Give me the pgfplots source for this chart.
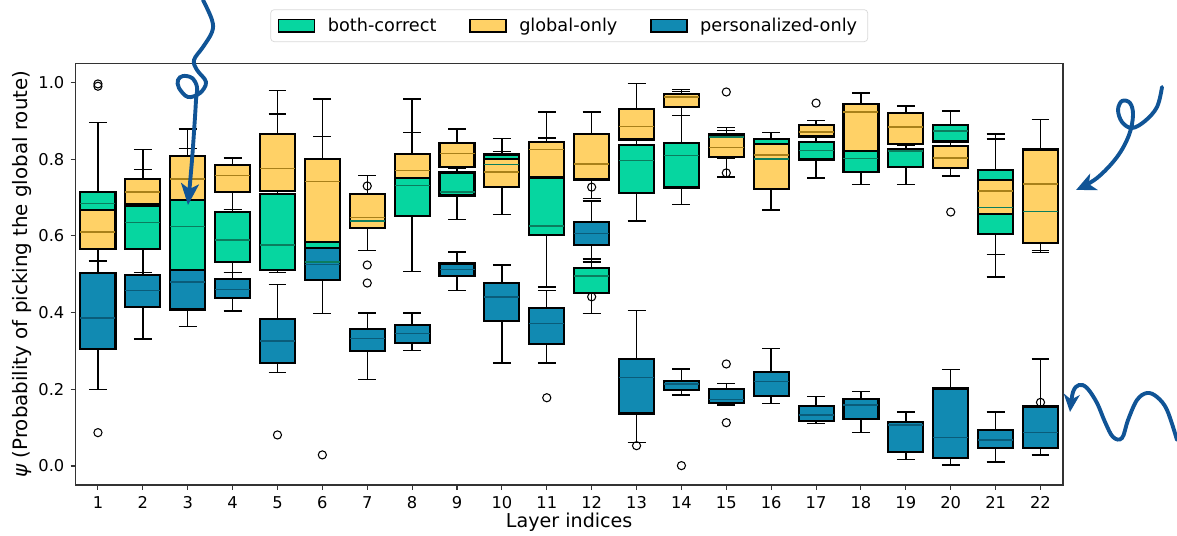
\documentclass[border=0pt]{standalone}
\usepackage{fontspec}
\setmainfont{DejaVu Sans}
\usepackage{pgfplots}
\usepackage{pgfplotstable}
\pgfplotsset{compat=1.18}
\usepgfplotslibrary{statistics}
\usetikzlibrary{arrows.meta}

\definecolor{gcol}{HTML}{06D6A0}
\definecolor{ycol}{HTML}{FFD166}
\definecolor{bcol}{HTML}{118AB2}
\definecolor{gmed}{HTML}{0B7D5E}
\definecolor{ymed}{HTML}{A8801A}
\definecolor{bmed}{HTML}{0A5C7A}
\definecolor{arrowblue}{RGB}{16,84,150}

% both-correct
\pgfplotstableread{
lw q1 med q3 uw
0.534 0.565 0.684 0.714 0.895
0.505 0.565 0.634 0.677 0.773
0.405 0.470 0.625 0.693 0.827
0.505 0.531 0.589 0.662 0.669
0.505 0.512 0.576 0.710 0.918
0.398 0.500 0.532 0.590 0.859
0.630 0.630 0.639 0.700 0.700
0.507 0.651 0.732 0.760 0.957
0.642 0.705 0.714 0.765 0.785
0.740 0.745 0.786 0.812 0.820
0.467 0.603 0.626 0.760 0.855
0.398 0.450 0.495 0.516 0.540
0.639 0.712 0.797 0.836 0.850
0.681 0.726 0.810 0.843 0.977
0.801 0.810 0.858 0.865 0.882
0.780 0.780 0.800 0.852 0.870
0.751 0.799 0.822 0.844 0.859
0.734 0.766 0.801 0.835 0.850
0.734 0.780 0.821 0.825 0.835
0.846 0.846 0.873 0.890 0.925
0.493 0.605 0.674 0.771 0.865
0.556 0.600 0.664 0.750 0.800
}\tabG

% global-only
\pgfplotstableread{
lw q1 med q3 uw
0.534 0.565 0.610 0.667 0.667
0.678 0.682 0.714 0.749 0.825
0.694 0.694 0.748 0.807 0.878
0.669 0.714 0.758 0.784 0.803
0.510 0.717 0.775 0.866 0.979
0.584 0.584 0.742 0.800 0.957
0.562 0.620 0.648 0.709 0.758
0.751 0.751 0.771 0.8125 0.869
0.775 0.780 0.814 0.842 0.878
0.656 0.727 0.766 0.800 0.853
0.752 0.752 0.825 0.845 0.923
0.697 0.747 0.787 0.866 0.923
0.851 0.851 0.885 0.931 0.997
0.914 0.936 0.962 0.970 0.982
0.753 0.806 0.830 0.859 0.875
0.667 0.722 0.811 0.839 0.839
0.859 0.859 0.871 0.890 0.900
0.821 0.821 0.923 0.943 0.972
0.840 0.840 0.884 0.921 0.938
0.756 0.777 0.803 0.835 0.846
0.552 0.658 0.717 0.745 0.852
0.5625 0.582 0.735 0.825 0.903
}\tabY

% personalized-only
\pgfplotstableread{
lw q1 med q3 uw
0.200 0.306 0.386 0.502 0.534
0.331 0.415 0.458 0.497 0.505
0.363 0.408 0.480 0.512 0.512
0.404 0.438 0.460 0.487 0.505
0.244 0.269 0.326 0.384 0.473
0.484 0.484 0.526 0.569 0.569
0.226 0.300 0.332 0.358 0.399
0.301 0.321 0.345 0.367 0.399
0.458 0.495 0.512 0.528 0.558
0.269 0.377 0.441 0.477 0.524
0.269 0.319 0.372 0.412 0.458
0.532 0.576 0.606 0.636 0.691
0.062 0.137 0.231 0.279 0.406
0.185 0.198 0.214 0.222 0.253
0.159 0.165 0.174 0.200 0.215
0.163 0.183 0.220 0.246 0.306
0.111 0.118 0.133 0.157 0.181
0.088 0.122 0.159 0.174 0.194
0.017 0.037 0.107 0.115 0.141
0.003 0.020 0.074 0.202 0.252
0.011 0.048 0.068 0.094 0.141
0.029 0.046 0.088 0.155 0.279
}\tabB

% outliers
\pgfplotstableread{
x y
1 0.990
1 0.996
1 0.087
5 0.081
6 0.029
7 0.730
7 0.524
7 0.477
11 0.178
12 0.727
12 0.441
13 0.053
14 0.001
15 0.975
15 0.764
15 0.266
15 0.113
17 0.946
20 0.662
22 0.166
}\tabO

\pgfplotsset{
  onlywhisk/.style={/pgfplots/boxplot/draw/box/.code={}, /pgfplots/boxplot/draw/median/.code={}},
  onlybox/.style={/pgfplots/boxplot/draw/lower whisker/.code={}, /pgfplots/boxplot/draw/upper whisker/.code={}, /pgfplots/boxplot/draw/median/.code={}},
  onlymed/.style={/pgfplots/boxplot/draw/lower whisker/.code={}, /pgfplots/boxplot/draw/upper whisker/.code={}, /pgfplots/boxplot/draw/box/.code={}},
  rectleg/.style={legend image code/.code={\draw[##1, sharp corners, line width=0.8pt] (0pt,-3.5pt) rectangle (20.5pt,3.5pt);}},
  gbox/.style={boxplot/every box/.style={fill=gcol, draw=black, line width=1.2pt}},
  ybox/.style={boxplot/every box/.style={fill=ycol, draw=black, line width=1.2pt}},
  bbox/.style={boxplot/every box/.style={fill=bcol, draw=black, line width=1.2pt}},
  gmedst/.style={boxplot/every median/.style={draw=gmed, line width=0.75pt}},
  ymedst/.style={boxplot/every median/.style={draw=ymed, line width=0.75pt}},
  bmedst/.style={boxplot/every median/.style={draw=bmed, line width=0.75pt}},
}

% one box plot from row #2 of table #1, drawn with the styles #3
\newcommand\BProw[3]{%
  \pgfplotstablegetelem{#2}{lw}\of#1\edef\bpLW{\pgfplotsretval}%
  \pgfplotstablegetelem{#2}{q1}\of#1\edef\bpQA{\pgfplotsretval}%
  \pgfplotstablegetelem{#2}{med}\of#1\edef\bpMED{\pgfplotsretval}%
  \pgfplotstablegetelem{#2}{q3}\of#1\edef\bpQB{\pgfplotsretval}%
  \pgfplotstablegetelem{#2}{uw}\of#1\edef\bpUW{\pgfplotsretval}%
  \pgfmathtruncatemacro\bpPOS{#2+1}%
  \edef\bpTMP{\noexpand\addplot[forget plot, #3, boxplot prepared={draw direction=y, draw position=\bpPOS, lower whisker=\bpLW, lower quartile=\bpQA, median=\bpMED, upper quartile=\bpQB, upper whisker=\bpUW}] coordinates {};}%
  \bpTMP}

\begin{document}
\begin{tikzpicture}
\begin{axis}[
  scale only axis, width=557.9pt, height=238.1pt,
  xmin=0.5, xmax=22.5, ymin=-0.0495, ymax=1.049,
  xtick={1,...,22}, ytick={0,0.2,0.4,0.6,0.8,1.0},
  yticklabel style={/pgf/number format/.cd, fixed, fixed zerofill, precision=1},
  /pgf/number format/assume math mode=true,
  tick label style={font=\fontsize{9.2}{11}\selectfont},
  xlabel style={font=\fontsize{10.8}{13}\selectfont, at={(axis description cs:0.5,-0.088)}, anchor=center},
  ylabel style={font=\fontsize{11.2}{13}\selectfont, at={(axis description cs:-0.054,0.5)}, anchor=center},
  xlabel={Layer indices},
  ylabel={\textit{ψ} (Probability of picking the global route)},
  tick align=outside, xtick pos=left, ytick pos=left,
  major tick length=2.8pt,
  axis line style={black!80, line width=0.7pt},
  every tick/.style={black!80, line width=0.6pt},
  boxplot/box extend=0.78, boxplot/whisker extend=0.4,
  boxplot/every whisker/.style={draw=black, line width=0.8pt},
  legend columns=3,
  legend style={at={(0.5,1.09)}, anchor=center, draw=black!15, rounded corners=2pt,
    font=\fontsize{10}{12}\selectfont, inner xsep=4pt, inner ysep=2.5pt,
    /tikz/every odd column/.append style={column sep=5pt},
    /tikz/every even column/.append style={column sep=16.5pt}},
]
\addlegendimage{rectleg, fill=gcol, draw=black}\addlegendentry{both-correct}
\addlegendimage{rectleg, fill=ycol, draw=black}\addlegendentry{global-only}
\addlegendimage{rectleg, fill=bcol, draw=black}\addlegendentry{personalized-only}

% pass 1: whiskers
\pgfplotsinvokeforeach{0,...,21}{
  \BProw{\tabG}{#1}{onlywhisk}
  \BProw{\tabY}{#1}{onlywhisk}
  \BProw{\tabB}{#1}{onlywhisk}
}
% pass 2: boxes
\pgfplotsinvokeforeach{0,...,21}{
  \BProw{\tabG}{#1}{onlybox, gbox}
  \BProw{\tabY}{#1}{onlybox, ybox}
  \BProw{\tabB}{#1}{onlybox, bbox}
}
% pass 3: medians
\pgfplotsinvokeforeach{0,...,21}{
  \BProw{\tabG}{#1}{onlymed, gmedst}
  \BProw{\tabY}{#1}{onlymed, ymedst}
  \BProw{\tabB}{#1}{onlymed, bmedst}
}
% outliers
\addplot[forget plot, only marks, mark=o, mark size=2.3pt, mark options={draw=black, line width=0.6pt}] table[x=x, y=y] {\tabO};
\end{axis}

\begin{scope}[shift={(current axis.south west)}, x=0.565pt, y=-0.565pt, shift={(-75.5,-485)}]
  \draw[arrowblue, line width=2.2pt, line cap=round, -{Stealth[length=12pt, width=10pt, inset=3pt]}]
    plot[smooth, tension=0.6] coordinates {(203,0) (212,20) (212,32) (203,47) (194,60) (197,70) (206,82) (200,93) (188,97) (179,88) (178,80) (183,76) (192,78) (197,87) (196,100) (195,117) (192,160) (188,205)};
  \draw[arrowblue, line width=2.2pt, line cap=round, -{Stealth[length=11pt, width=10pt, inset=3pt]}]
    plot[smooth, tension=0.6] coordinates {(1162,87) (1157,107) (1145,121) (1132,128) (1122,122) (1118,110) (1122,101) (1130,103) (1133,115) (1129,135) (1117,157) (1097,178) (1076,190)};
  \draw[arrowblue, line width=2.2pt, line cap=round, -{Stealth[length=10pt, width=9pt, inset=3pt]}]
    plot[smooth, tension=0.6] coordinates {(1177,440) (1167,410) (1157,397) (1147,393) (1137,400) (1128,420) (1122,438) (1113,437) (1105,422) (1097,403) (1087,388) (1079,385) (1073,392) (1070,412)};
  \pgfresetboundingbox
  \path[use as bounding box] (0,0) rectangle (1177,535);
\end{scope}
\end{tikzpicture}
\end{document}
